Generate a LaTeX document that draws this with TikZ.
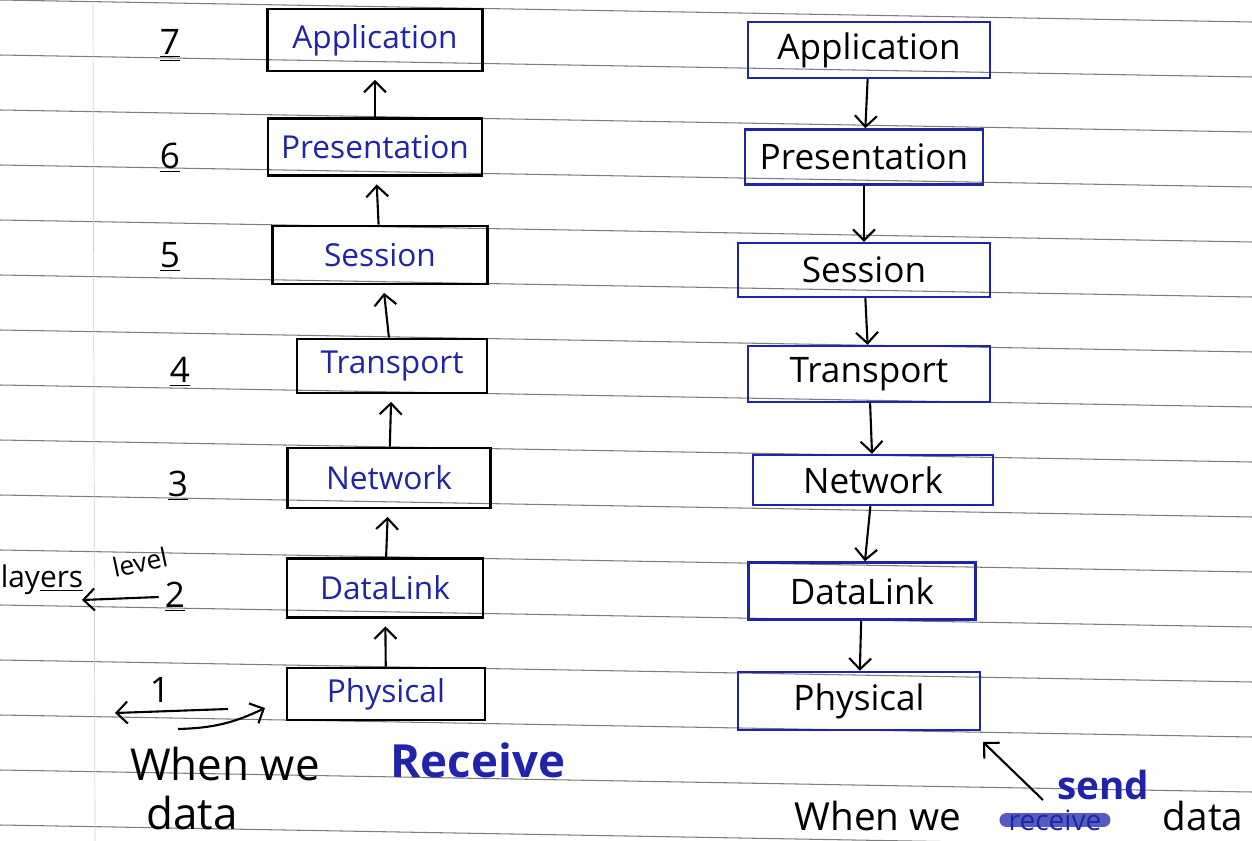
\documentclass[tikz,border=0pt]{standalone}
\usepackage{fontspec}
\setmainfont{Open Sans}
\usetikzlibrary{arrows.meta}
\usepackage{xcolor}
\definecolor{ink}{RGB}{32,36,170}
\definecolor{ruling}{RGB}{125,125,125}

\begin{document}
\begin{tikzpicture}[x=0.02cm,y=-0.02cm]
	\tikzset{layer/.style = {shape=rectangle,draw,line width=1.6pt,inner sep=0pt,
			text=ink,font=\fontsize{18}{22}\selectfont}}
	\tikzset{sendlayer/.style = {shape=rectangle,draw=ink,line width=1.4pt,inner sep=0pt,
			font=\fontsize{20}{24}\selectfont}}
	\tikzset{num/.style = {font=\fontsize{20}{24}\selectfont}}
	\tikzset{hand/.style = {inner sep=2pt,font=\fontsize{25}{30}\selectfont}}
	\tikzset{edge/.style = {-{Straight Barb[length=2.2mm,width=4.4mm]},line width=1.2pt}}
	% paper
	\useasboundingbox (0,0) rectangle (1252,841);
	\fill[white] (0,0) rectangle (1252,841);
	\foreach \k in {0,...,15}
		\draw[ruling,line width=0.6pt] (0,55*\k) -- (1252,55*\k+22);
	\draw[ruling!35,line width=0.4pt] (93,0) -- (95,841);
	% receive side
	\node[layer,minimum width=4.3cm,minimum height=1.24cm] (lapp) at (375,40) {Application};
	\node[layer,minimum width=4.28cm,minimum height=1.14cm] (lpres) at (375,147) {Presentation};
	\node[layer,minimum width=4.3cm,minimum height=1.16cm] (lsess) at (380,255) {Session};
	\node[layer,minimum width=3.8cm,minimum height=1.08cm] (ltrans) at (392,366) {Transport};
	\node[layer,minimum width=4.06cm,minimum height=1.2cm] (lnet) at (389,478) {Network};
	\node[layer,minimum width=3.92cm,minimum height=1.18cm] (ldl) at (385,588) {DataLink};
	\node[layer,minimum width=3.96cm,minimum height=1.04cm] (lphys) at (386,694) {Physical};
	\draw[edge,shorten >=0.15cm] (lpres) -- (lapp);
	\draw[edge,shorten >=0.15cm] (lsess) -- (lpres);
	\draw[edge,shorten >=0.15cm] (ltrans) -- (lsess);
	\draw[edge,shorten >=0.15cm] (lnet) -- (ltrans);
	\draw[edge,shorten >=0.15cm] (ldl) -- (lnet);
	\draw[edge,shorten >=0.15cm] (lphys) -- (ldl);
	% layer numbers
	\node[num] (n7) at (170,45) {\underline{\underline{7}}};
	\node[num] (n6) at (170,158) {\underline{6}};
	\node[num] (n5) at (170,257) {\underline{5}};
	\node[num] (n4) at (180,372) {\underline{4}};
	\node[num] (n3) at (178,486) {\underline{3}};
	\node[num] (n2) at (175,597) {\underline{2}};
	\node[num] (n1) at (160,690) {1};
	\node[font=\fontsize{17}{20}\selectfont] (layers) at (42,580) {lay\underline{ers}};
	\node[font=\fontsize{15}{18}\selectfont,rotate=12] (level) at (140,562) {level};
	\coordinate (lyrtip) at (82,600);
	\draw[edge] (n2.west) -- (lyrtip);
	\coordinate (oner) at (228,709);
	\coordinate (onel) at (115,713);
	\coordinate (oneb) at (178,729);
	\coordinate (onet) at (265,708);
	\draw[edge] (oner) -- (onel);
	\draw[edge] (oneb) to[bend right=12] (onet);
	\node[hand] (when) at (225,764) {When we};
	\node[hand,text=ink,font=\fontsize{26}{31}\selectfont\bfseries] (recv) at (478,760) {Receive};
	\node[hand] (data) at (192,813) {data};
	% send side
	\node[sendlayer,minimum width=4.84cm,minimum height=1.12cm] (rapp) at (869,50) {Application};
	\node[sendlayer,minimum width=4.76cm,minimum height=1.1cm] (rpres) at (864,157) {Presentation};
	\node[sendlayer,minimum width=5.04cm,minimum height=1.08cm] (rsess) at (864,270) {Session};
	\node[sendlayer,minimum width=4.84cm,minimum height=1.12cm] (rtrans) at (869,374) {Transport};
	\node[sendlayer,minimum width=4.8cm,minimum height=1.0cm] (rnet) at (873,480) {Network};
	\node[sendlayer,minimum width=4.54cm,minimum height=1.14cm] (rdl) at (862,591) {DataLink};
	\node[sendlayer,minimum width=4.84cm,minimum height=1.16cm] (rphys) at (859,701) {Physical};
	\draw[edge] (rapp) -- (rpres);
	\draw[edge] (rpres) -- (rsess);
	\draw[edge] (rsess) -- (rtrans);
	\draw[edge] (rtrans) -- (rnet);
	\draw[edge] (rnet) -- (rdl);
	\draw[edge] (rdl) -- (rphys);
	\node[inner sep=1pt,font=\fontsize{22}{26}\selectfont] (when2) at (878,816) {When we};
	\node[inner sep=1pt,font=\fontsize{16}{19}\selectfont,text=ink] (struck) at (1055,820) {receive};
	\draw[ink,line width=8pt,opacity=0.75,line cap=round] (struck.west) -- (struck.east);
	\node[inner sep=1pt,text=ink,font=\fontsize{22}{26}\selectfont\bfseries] (send) at (1103,785) {send};
	\node[inner sep=1pt,font=\fontsize{22}{26}\selectfont] (data2) at (1203,816) {data};
	\coordinate (sendb) at (1043,800);
	\coordinate (sendt) at (983,742);
	\draw[edge] (sendb) -- (sendt);
\end{tikzpicture}
\end{document}
